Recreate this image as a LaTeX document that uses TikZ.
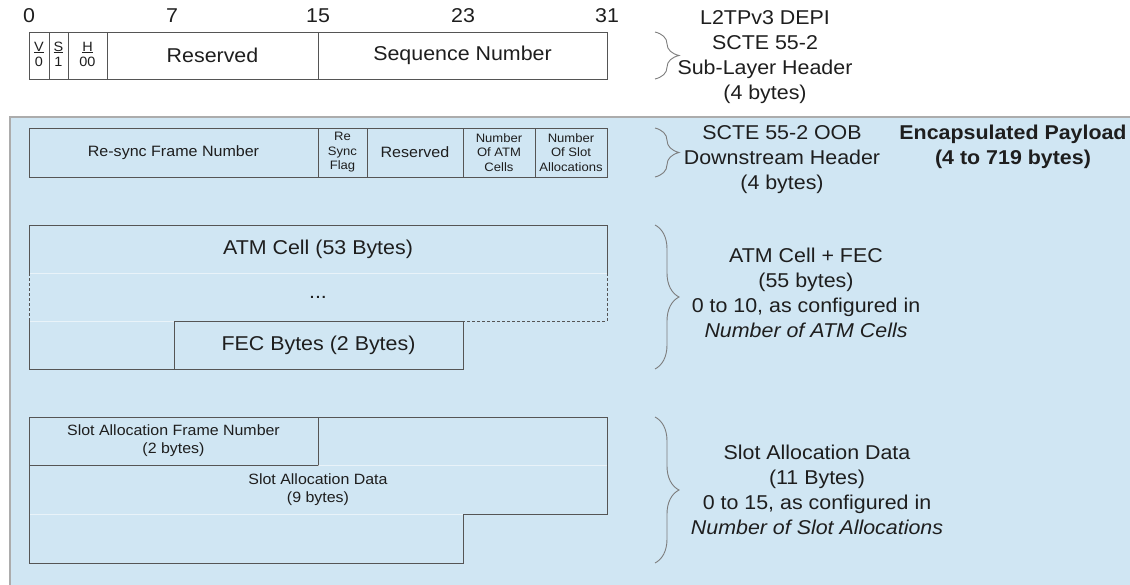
\documentclass[tikz,border=0pt]{standalone}
\usepackage{fontspec}
\setmainfont{Liberation Sans}[FakeStretch=1.07]
\usetikzlibrary{positioning,decorations.pathreplacing}
\definecolor{payloadblue}{RGB}{208,230,243}
\definecolor{edgegray}{RGB}{85,85,85}
\definecolor{bracegray}{RGB}{125,125,125}
\definecolor{inkgray}{RGB}{30,30,30}
\newcommand{\flagbits}[2]{\raisebox{3pt}{\begin{tabular}{@{}c@{}}\underline{#1}\\#2\end{tabular}}}

\begin{document}
\begin{tikzpicture}
  [x=1pt, y=-1pt,
    every node/.style={inner sep=0pt, outer sep=0pt, text=inkgray, align=center},
    field/.style={draw=edgegray, line width=0.9pt, minimum height=47pt, font=\fontsize{20}{24}\selectfont},
    flagfield/.style={field, font=\fontsize{13.5}{15}\selectfont},
    oobfield/.style={field, minimum height=49pt, font=\fontsize{15}{18}\selectfont},
    tinyfield/.style={oobfield, font=\fontsize{12.2}{14.5}\selectfont},
    cell/.style={minimum height=48pt, font=\fontsize{20}{24}\selectfont},
    slotfield/.style={field, minimum height=48pt, font=\fontsize{14.9}{18}\selectfont},
    bitnum/.style={font=\fontsize{20}{24}\selectfont},
    note/.style={font=\fontsize{20}{25}\selectfont},
    edge/.style={draw=edgegray, line width=0.9pt},
    faint/.style={draw=white, opacity=0.55, line width=0.8pt},
    bracket/.style={draw=bracegray, line width=0.9pt, decorate, decoration={brace, amplitude=24pt}},
  ]
  \useasboundingbox (0,0) rectangle (1130,584);

  \node[bitnum] (b0) at (29,16) {0};
  \node[bitnum] (b7) at (172,16) {7};
  \node[bitnum] (b15) at (318,16) {15};
  \node[bitnum] (b23) at (463,16) {23};
  \node[bitnum] (b31) at (607,16) {31};

  \node[flagfield, minimum width=20pt, anchor=north west] (v) at (29,32) {\flagbits{V}{0}};
  \node[flagfield, minimum width=19pt, right=0pt of v] (s) {\flagbits{S}{1}};
  \node[flagfield, minimum width=39pt, right=0pt of s] (h) {\flagbits{H}{00}};
  \node[field, minimum width=211pt, right=0pt of h] (res) {Reserved};
  \node[field, minimum width=289pt, right=0pt of res] (seq) {Sequence Number};

  \draw[bracket] ([xshift=48pt]seq.north east) -- ([xshift=48pt]seq.south east);
  \node[note] (sublayer) at (765,57) {L2TPv3 DEPI\\SCTE 55-2\\Sub-Layer Header\\(4 bytes)};

  \filldraw[fill=payloadblue, draw=gray!65, line width=1.3pt] (10,117) rectangle (1145,600);
  \node[note, font=\bfseries\fontsize{20}{25}\selectfont] (payload) at (1013,147) {Encapsulated Payload\\(4 to 719 bytes)};

  \node[oobfield, minimum width=289pt, anchor=north west] (resync) at (29,128) {Re-sync Frame Number};
  \node[tinyfield, minimum width=49pt, right=0pt of resync] (rsflag) {Re\\Sync\\Flag};
  \node[oobfield, minimum width=96pt, right=0pt of rsflag] (oobres) {Reserved};
  \node[tinyfield, minimum width=72pt, right=0pt of oobres] (natm) {Number\\Of ATM\\Cells};
  \node[tinyfield, minimum width=72pt, right=0pt of natm] (nslot) {Number\\Of Slot\\Allocations};

  \draw[bracket] ([xshift=48pt]nslot.north east) -- ([xshift=48pt]nslot.south east);
  \node[note] (oobhdr) at (782,160) {SCTE 55-2 OOB\\Downstream Header\\(4 bytes)};

  \node[cell, minimum width=578pt, anchor=north west] (atm) at (29,225) {ATM Cell (53 Bytes)};
  \node[cell, minimum width=578pt, below=0pt of atm] (dots) {...};
  \node[field, minimum width=289pt, minimum height=48pt, anchor=north west] (fec) at (174,321) {FEC Bytes (2 Bytes)};
  \draw[faint] (atm.south west) -- (atm.south east);
  \draw[faint] (dots.south west) -- (fec.north west);
  \draw[edge] (atm.south west) |- (atm.north east) -- (atm.south east);
  \draw[edge, dash pattern=on 3pt off 2pt] (atm.south east) |- (fec.north east);
  \draw[edge, dash pattern=on 3pt off 2pt] (atm.south west) -- (dots.south west);
  \draw[edge] (dots.south west) |- (fec.south west);

  \draw[bracket] ([xshift=48pt]atm.north east) -- ([xshift=48pt]atm.north east |- fec.south);
  \node[note] (atmnote) at (806,293) {ATM Cell + FEC\\(55 bytes)\\0 to 10, as configured in\\\textit{Number of ATM Cells}};

  \node[slotfield, minimum width=289pt, anchor=north west] (frame) at (29,417) {Slot Allocation Frame Number\\(2 bytes)};
  \node[cell, minimum width=578pt, minimum height=49pt, font=\fontsize{14.9}{18}\selectfont, anchor=north west] (data) at (frame.south west) {Slot Allocation Data\\(9 bytes)};
  \coordinate (slotend) at (463,563);
  \draw[faint] (frame.south east) -- (data.north east);
  \draw[faint] (data.south west) -- (slotend |- data.south);
  \draw[edge] (frame.north east) -| (data.south east) -| (slotend) -| (frame.south west);

  \draw[bracket] ([xshift=48pt]data.north east |- frame.north) -- ([xshift=48pt]data.north east |- slotend);
  \node[note] (slotnote) at (817,490) {Slot Allocation Data\\(11 Bytes)\\0 to 15, as configured in\\\textit{Number of Slot Allocations}};
\end{tikzpicture}
\end{document}
